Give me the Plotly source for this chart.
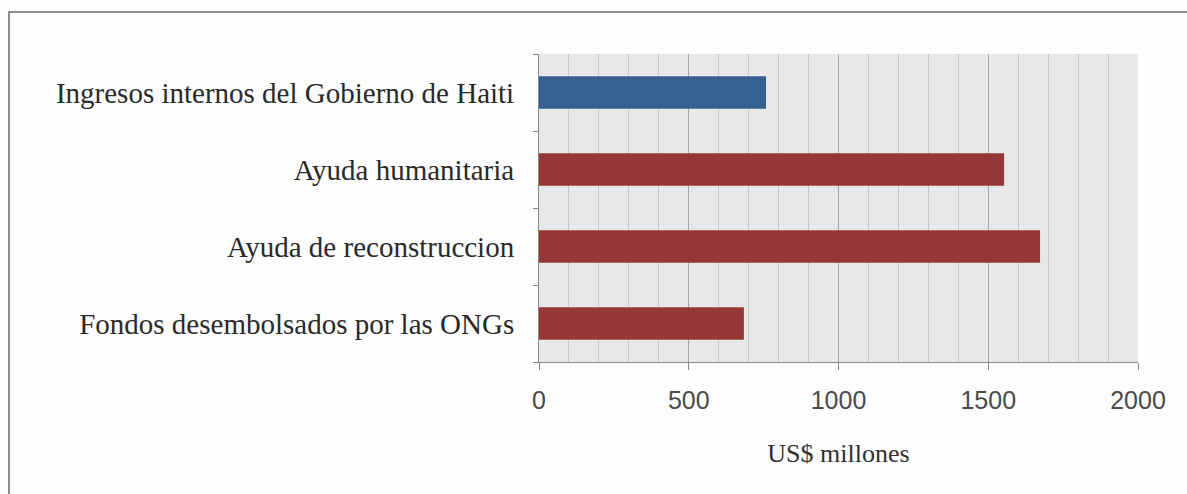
import plotly.graph_objects as go

# Fuentes de financiamiento (US$ millones)
categories = [
    "Ingresos internos del Gobierno de Haiti",
    "Ayuda humanitaria",
    "Ayuda de reconstruccion",
    "Fondos desembolsados por las ONGs",
]
values = [758, 1553, 1673, 684]
bar_colors = ["#366092", "#953735", "#953735", "#953735"]
x_ticks = [0, 500, 1000, 1500, 2000]

W, H = 1187, 494
L, R, T, B = 539, 49, 54, 132
pw, ph = W - L - R, H - T - B

fig = go.Figure(
    go.Bar(
        y=categories,
        x=values,
        orientation="h",
        marker=dict(color=bar_colors, line=dict(width=0)),
        width=0.42,
    )
)


def px_to_paper(px, py):
    return (px - L) / pw, (H - B - py) / ph


x0, y0 = px_to_paper(9, 12)
x1, y1 = px_to_paper(1215, 520)
fig.add_shape(
    type="rect", xref="paper", yref="paper",
    x0=x0, y0=y1, x1=x1, y1=y0,
    line=dict(color="#8c8c8c", width=2), layer="below",
)

fig.update_layout(
    width=W, height=H,
    margin=dict(l=L, r=R, t=T, b=B),
    paper_bgcolor="#fdfdfd",
    plot_bgcolor="#e8e8e8",
    showlegend=False,
    xaxis=dict(
        range=[0, 2000],
        tickvals=x_ticks,
        ticktext=[str(v) for v in x_ticks],
        ticks="outside", ticklen=7, tickcolor="#888888",
        showline=True, linecolor="#888888", linewidth=1,
        showgrid=True, gridcolor="#a8a8a8", gridwidth=1,
        minor=dict(dtick=100, showgrid=True, gridcolor="#c8c8c8", gridwidth=1),
        tickfont=dict(family="Liberation Sans", size=25, color="#4a4a4a"),
        ticklabelstandoff=9,
        title=dict(text="US$ millones", font=dict(family="Liberation Serif", size=26, color="#303030"), standoff=30),
        zeroline=False,
    ),
    yaxis=dict(
        categoryorder="array",
        categoryarray=categories[::-1],
        tickson="boundaries",
        ticks="outside", ticklen=5, tickcolor="#888888",
        showline=True, linecolor="#888888", linewidth=1,
        showgrid=False,
        tickfont=dict(family="Liberation Serif", size=29, color="#2a2a2a"),
        ticklabelstandoff=18,
    ),
)

fig.write_html("out.html")
